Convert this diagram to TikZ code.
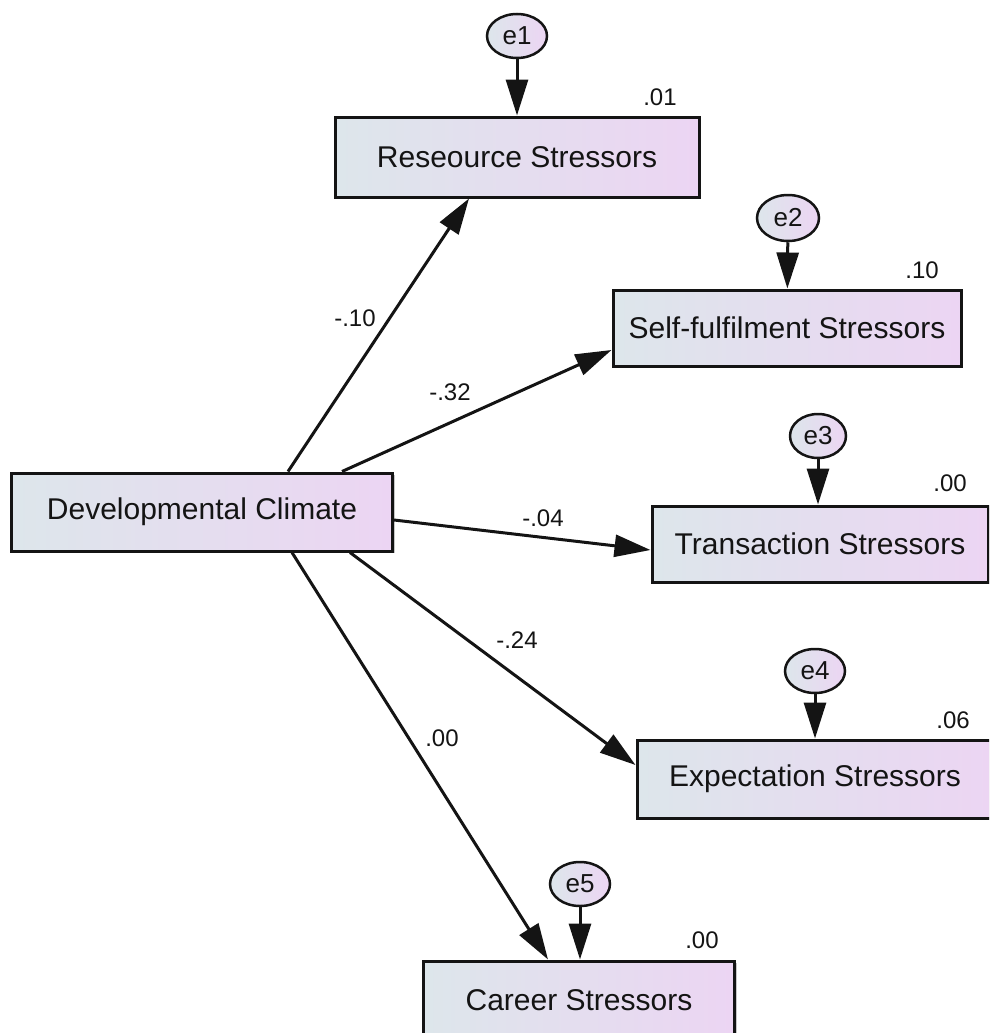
\documentclass[tikz,border=0pt]{standalone}
\usepackage{fontspec}
\setmainfont{Liberation Sans}
\usetikzlibrary{arrows.meta,shapes.geometric,shadows}
\definecolor{fillL}{RGB}{221,230,235}
\definecolor{fillR}{RGB}{236,213,243}
\definecolor{ink}{RGB}{20,20,20}
\tikzset{
  varbox/.style={draw=ink, line width=3pt, left color=fillL, right color=fillR,
    minimum height=78pt, inner sep=0pt, text=ink,
    font=\fontsize{30}{36}\selectfont,
    general shadow={fill=black!22, shadow xshift=2pt, shadow yshift=-2pt}},
  errnode/.style={draw=ink, line width=2.5pt, ellipse, left color=fillL, right color=fillR,
    minimum width=60pt, minimum height=44pt, inner sep=0pt, text=ink,
    font=\fontsize{26}{30}\selectfont},
  path/.style={draw=ink, line width=3pt, -{Triangle[length=36pt,width=22pt]}},
  coef/.style={text=ink, font=\fontsize{24}{28}\selectfont, inner sep=0pt},
}
\begin{document}
\begin{tikzpicture}[x=1pt, y=-1pt]
\useasboundingbox (0,0) rectangle (989,1033);
\clip (0,0) rectangle (989,1033);

% observed variables
\node[varbox, minimum width=381pt] (dev)   at (202,512)  {Developmental Climate};
\node[varbox, minimum width=364pt, minimum height=80pt] (res) at (517,157) {Reseource Stressors};
\node[varbox, minimum width=348pt, minimum height=76pt] (self) at (787,328) {Self-fulfilment Stressors};
\node[varbox, minimum width=336pt, minimum height=76pt] (trans) at (820,544) {Transaction Stressors};
\node[varbox, minimum width=356pt] (exp)   at (815,779)  {Expectation Stressors};
\node[varbox, minimum width=311pt] (car)   at (579,1000) {Career Stressors};

% error terms
\node[errnode] (e1) at (517,36)  {e1};
\node[errnode, minimum width=62pt, minimum height=46pt] (e2) at (788,218) {e2};
\node[errnode, minimum width=56pt] (e3) at (818,436) {e3};
\node[errnode] (e4) at (815,671) {e4};
\node[errnode] (e5) at (580,884) {e5};

% error paths
\draw[path] (e1) -- (res);
\draw[path] (e2) -- (self);
\draw[path] (e3) -- ([xshift=-2pt]trans.north);
\draw[path] (e4) -- (exp);
\draw[path] (e5) -- ([xshift=1pt]car.north);

% structural paths
\draw[path] ([xshift=86pt]dev.north)  -- ([xshift=-48pt]res.south);
\draw[path] ([xshift=140pt]dev.north) -- ([yshift=-22pt]self.west);
\draw[path] ([yshift=-8pt]dev.east)   -- ([yshift=-6pt]trans.west);
\draw[path] ([xshift=148pt]dev.south) -- ([yshift=14pt]exp.west);
\draw[path] ([xshift=90pt]dev.south)  -- ([xshift=-31pt]car.north);

% path coefficients
\node[coef] (c1) at (355,318) {-.10};
\node[coef] (c2) at (450,392) {-.32};
\node[coef] (c3) at (543,518) {-.04};
\node[coef] (c4) at (517,640) {-.24};
\node[coef] (c5) at (442,738) {.00};

% squared multiple correlations
\node[coef] (r1) at (660,97)  {.01};
\node[coef] (r2) at (922,270) {.10};
\node[coef] (r3) at (950,483) {.00};
\node[coef] (r4) at (953,720) {.06};
\node[coef] (r5) at (702,940) {.00};
\end{tikzpicture}
\end{document}
